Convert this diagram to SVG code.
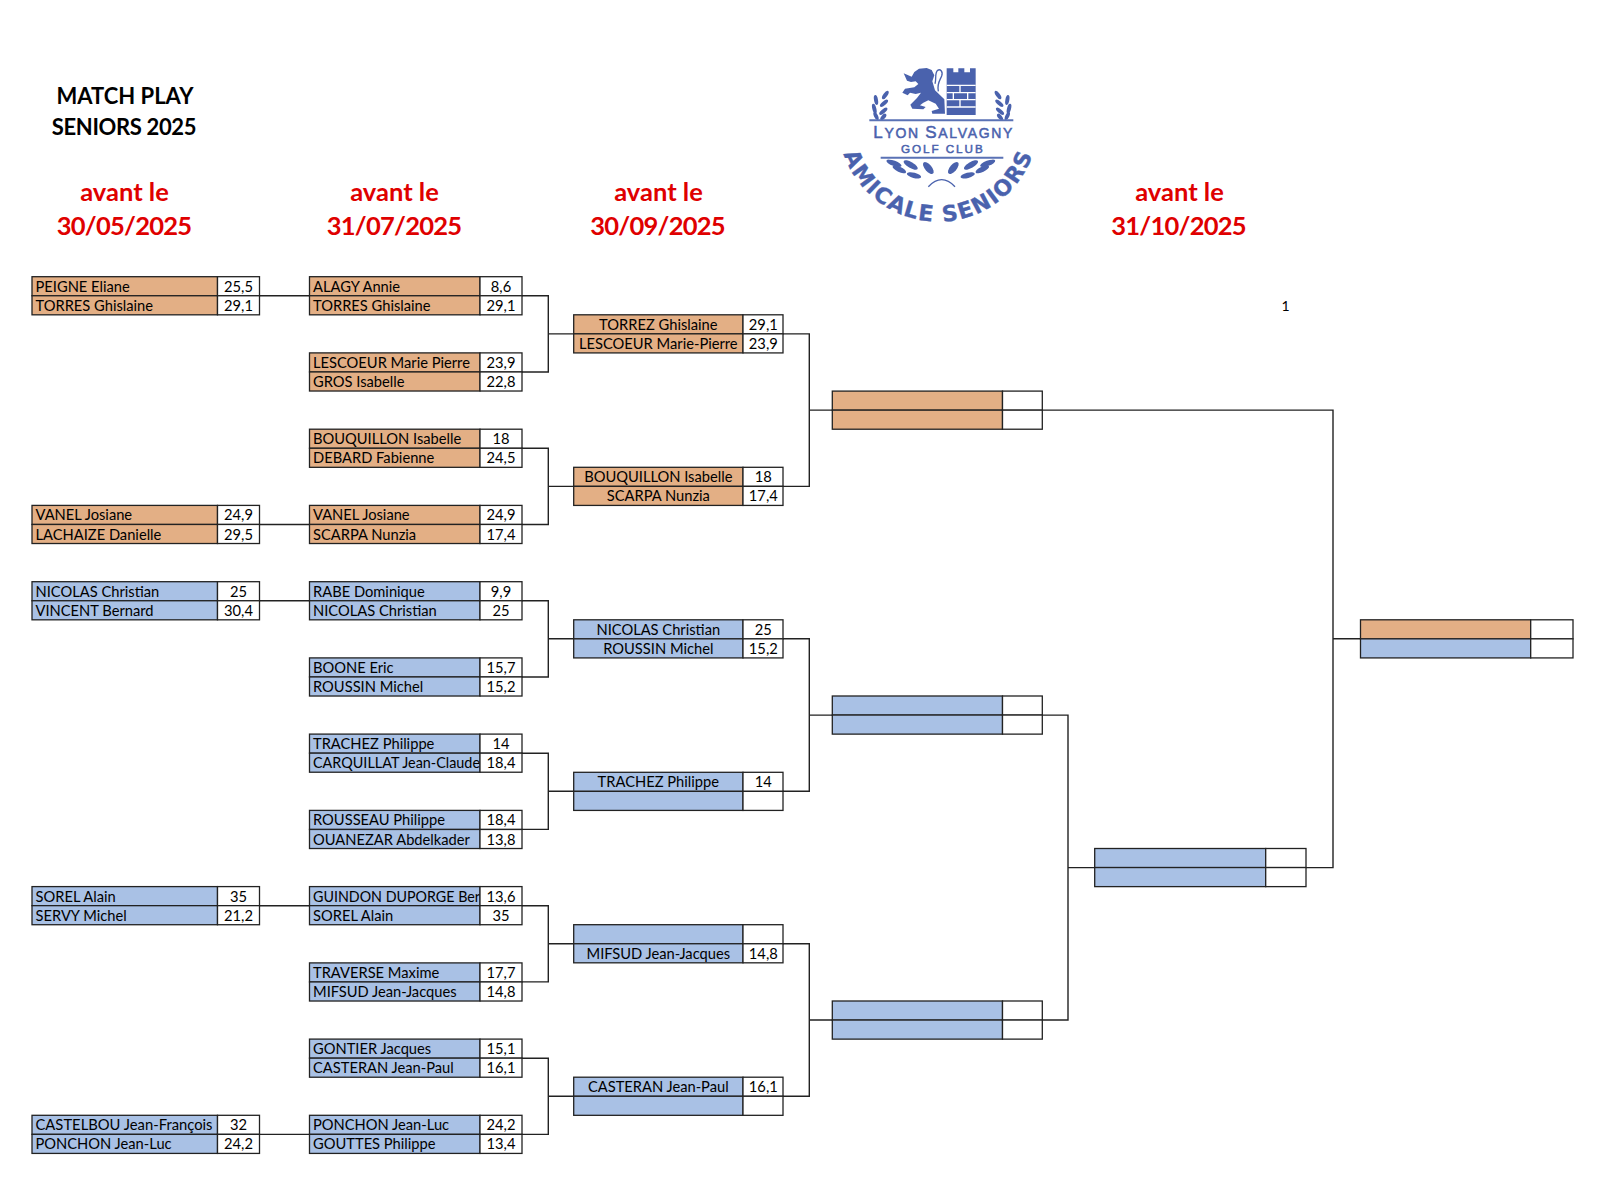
<svg xmlns="http://www.w3.org/2000/svg" width="1610" height="1200" viewBox="0 0 1610 1200">
<style>
text{font-family:"Lato","Open Sans","Liberation Sans",sans-serif;fill:#000}
.n{font-size:14.7px}
.v{font-size:14.7px;text-anchor:middle}
.c{text-anchor:middle}
.o,.b,.w{stroke:#222;stroke-width:1.3}
.o{fill:#E3AF85}
.b{fill:#A9C1E5}
.w{fill:#fff}
.t{font-size:22px;font-weight:700;text-anchor:middle}
.r{font-size:25.5px;font-weight:700;text-anchor:middle;fill:#DF0000}
.d{letter-spacing:-0.75px}
.l{fill:none;stroke:#222;stroke-width:1.4}
.logo text{font-family:"Liberation Sans",sans-serif;fill:#4A62AD;stroke:#4A62AD;stroke-width:1.5}
.logo text.a{font-family:"DejaVu Sans",sans-serif;font-weight:700;stroke-width:1;font-size:66px;letter-spacing:4.5px}
.lf{fill:#4A62AD}
</style>
<rect width="1610" height="1200" fill="#fff"/>
<g id="titles">
<text class="t" x="125" y="104">MATCH PLAY</text>
<text class="t" x="124" y="135" style="letter-spacing:-0.35px">SENIORS 2025</text>
<text class="r" x="124.5" y="201">avant le</text>
<text class="r d" x="124" y="235">30/05/2025</text>
<text class="r" x="394.5" y="201">avant le</text>
<text class="r d" x="394" y="235">31/07/2025</text>
<text class="r" x="658.5" y="201">avant le</text>
<text class="r d" x="657.5" y="235">30/09/2025</text>
<text class="r" x="1179.5" y="201">avant le</text>
<text class="r d" x="1178.5" y="235">31/10/2025</text>
<text x="1285.5" y="311" font-size="14" class="c">1</text>
</g>
<g id="logo" class="logo" transform="translate(820,50) scale(0.33333)">
<path class="lf" transform="translate(225,36)" d="M26 34 L50 44 L58 30 L72 20 L95 18 L110 24 L118 40 L112 58 L120 85 L148 112 L150 155 L112 155 L110 147 L132 140 L122 125 L100 115 L85 122 L75 130 L92 135 L85 142 L52 140 L46 128 L66 108 L78 92 L62 96 L45 92 L38 100 L22 92 L30 80 L58 76 L70 66 L62 58 L48 60 L36 56 Z"/>
<path transform="translate(225,36)" d="M120 65 C125 50 118 35 128 25 C135 20 145 28 140 42 C135 55 125 65 130 88" fill="none" stroke="#4A62AD" stroke-width="4"/>
<path class="lf" d="M380 55 h20 v12 h15 v-12 h18 v12 h17 v-12 h17 V195 H380 Z"/>
<path d="M380 106 H467 M380 128 H467 M380 149 H467 M380 171 H467 M420 106 V128 M400 128 V149 M443 128 V149 M420 149 V171" stroke="#fff" stroke-width="4" fill="none"/>
<g id="laurel-l" class="lf">
<ellipse cx="196" cy="135" rx="6" ry="15" transform="rotate(35 196 135)"/>
<ellipse cx="168" cy="150" rx="6" ry="15" transform="rotate(-10 168 150)"/>
<ellipse cx="192" cy="160" rx="6" ry="15" transform="rotate(50 192 160)"/>
<ellipse cx="163" cy="176" rx="6" ry="15" transform="rotate(-15 163 176)"/>
<ellipse cx="190" cy="184" rx="6" ry="15" transform="rotate(50 190 184)"/>
<ellipse cx="168" cy="198" rx="6" ry="13" transform="rotate(-25 168 198)"/>
<ellipse cx="190" cy="201" rx="6" ry="12" transform="rotate(40 190 201)"/>
</g>
<g class="lf" transform="translate(730,0) scale(-1,1)">
<ellipse cx="196" cy="135" rx="6" ry="15" transform="rotate(35 196 135)"/>
<ellipse cx="168" cy="150" rx="6" ry="15" transform="rotate(-10 168 150)"/>
<ellipse cx="192" cy="160" rx="6" ry="15" transform="rotate(50 192 160)"/>
<ellipse cx="163" cy="176" rx="6" ry="15" transform="rotate(-15 163 176)"/>
<ellipse cx="190" cy="184" rx="6" ry="15" transform="rotate(50 190 184)"/>
<ellipse cx="168" cy="198" rx="6" ry="13" transform="rotate(-25 168 198)"/>
<ellipse cx="190" cy="201" rx="6" ry="12" transform="rotate(40 190 201)"/>
</g>
<path d="M148 211 H580 M182 323 H550" stroke="#5A72B5" stroke-width="6" fill="none"/>
<text x="160" y="265" font-size="42" textLength="417"><tspan font-size="51">L</tspan>YON <tspan font-size="51">S</tspan>ALVAGNY</text>
<text x="243" y="308" font-size="35" textLength="245">GOLF CLUB</text>
<g id="laurel-b" class="lf">
<ellipse cx="222" cy="340" rx="24" ry="8" transform="rotate(20 222 340)"/>
<ellipse cx="238" cy="358" rx="22" ry="8" transform="rotate(25 238 358)"/>
<ellipse cx="272" cy="345" rx="24" ry="9" transform="rotate(30 272 345)"/>
<ellipse cx="282" cy="376" rx="22" ry="8" transform="rotate(15 282 376)"/>
<ellipse cx="325" cy="354" rx="22" ry="10" transform="rotate(50 325 354)"/>
</g>
<g class="lf" transform="translate(725,0) scale(-1,1)">
<ellipse cx="222" cy="340" rx="24" ry="8" transform="rotate(20 222 340)"/>
<ellipse cx="238" cy="358" rx="22" ry="8" transform="rotate(25 238 358)"/>
<ellipse cx="272" cy="345" rx="24" ry="9" transform="rotate(30 272 345)"/>
<ellipse cx="282" cy="376" rx="22" ry="8" transform="rotate(15 282 376)"/>
<ellipse cx="325" cy="354" rx="22" ry="10" transform="rotate(50 325 354)"/>
</g>
<path d="M325 410 Q365 368 405 410" fill="none" stroke="#4A62AD" stroke-width="4"/>
<path id="logoarc" d="M55 215 A300 300 0 0 0 655 215" fill="none"/>
<text class="a"><textPath href="#logoarc" startOffset="50%" text-anchor="middle">AMICALE SENIORS</textPath></text>
</g>
<g id="connectors" class="l">
<path d="M259.5 295.8H309.5M259.5 524.5H309.5M259.5 600.7H309.5M259.5 905.7H309.5M259.5 1134.4H309.5"/>
<path d="M522 295.8H548.3V372H522M548.3 333.9H573.7"/>
<path d="M522 448.2H548.3V524.5H522M548.3 486.4H573.7"/>
<path d="M522 600.7H548.3V677H522M548.3 638.8H573.7"/>
<path d="M522 753.2H548.3V829.4H522M548.3 791.3H573.7"/>
<path d="M522 905.7H548.3V981.9H522M548.3 943.8H573.7"/>
<path d="M522 1058.2H548.3V1134.4H522M548.3 1096.3H573.7"/>
<path d="M783 333.9H809.3V486.4H783M809.3 410.1H832.3"/>
<path d="M783 638.8H809.3V791.3H783M809.3 715.1H832.3"/>
<path d="M783 943.8H809.3V1096.3H783M809.3 1020H832.3"/>
<path d="M1042.3 715.1H1068V1020H1042.3M1068 867.6H1094.7"/>
<path d="M1042.3 410.1H1333V867.6H1306M1333 638.8H1360.5"/>
</g>
<g id="m01" transform="translate(32,276.7)"><rect class="o" width="185.5" height="19.06"/><rect class="o" y="19.06" width="185.5" height="19.06"/><rect class="w" x="185.5" width="42" height="19.06"/><rect class="w" x="185.5" y="19.06" width="42" height="19.06"/><text class="n" x="3.5" y="15.1">PEIGNE Eliane</text><text class="n" x="3.5" y="34.2">TORRES Ghislaine</text><text class="v" x="206.5" y="15.1">25,5</text><text class="v" x="206.5" y="34.2">29,1</text></g>
<g id="m02" transform="translate(32,505.4)"><rect class="o" width="185.5" height="19.06"/><rect class="o" y="19.06" width="185.5" height="19.06"/><rect class="w" x="185.5" width="42" height="19.06"/><rect class="w" x="185.5" y="19.06" width="42" height="19.06"/><text class="n" x="3.5" y="15.1">VANEL Josiane</text><text class="n" x="3.5" y="34.2">LACHAIZE Danielle</text><text class="v" x="206.5" y="15.1">24,9</text><text class="v" x="206.5" y="34.2">29,5</text></g>
<g id="m03" transform="translate(32,581.7)"><rect class="b" width="185.5" height="19.06"/><rect class="b" y="19.06" width="185.5" height="19.06"/><rect class="w" x="185.5" width="42" height="19.06"/><rect class="w" x="185.5" y="19.06" width="42" height="19.06"/><text class="n" x="3.5" y="15.1">NICOLAS Christian</text><text class="n" x="3.5" y="34.2">VINCENT Bernard</text><text class="v" x="206.5" y="15.1">25</text><text class="v" x="206.5" y="34.2">30,4</text></g>
<g id="m04" transform="translate(32,886.6)"><rect class="b" width="185.5" height="19.06"/><rect class="b" y="19.06" width="185.5" height="19.06"/><rect class="w" x="185.5" width="42" height="19.06"/><rect class="w" x="185.5" y="19.06" width="42" height="19.06"/><text class="n" x="3.5" y="15.1">SOREL Alain</text><text class="n" x="3.5" y="34.2">SERVY Michel</text><text class="v" x="206.5" y="15.1">35</text><text class="v" x="206.5" y="34.2">21,2</text></g>
<g id="m05" transform="translate(32,1115.3)"><rect class="b" width="185.5" height="19.06"/><rect class="b" y="19.06" width="185.5" height="19.06"/><rect class="w" x="185.5" width="42" height="19.06"/><rect class="w" x="185.5" y="19.06" width="42" height="19.06"/><text class="n" x="3.5" y="15.1" textLength="177" lengthAdjust="spacingAndGlyphs">CASTELBOU Jean-François</text><text class="n" x="3.5" y="34.2">PONCHON Jean-Luc</text><text class="v" x="206.5" y="15.1">32</text><text class="v" x="206.5" y="34.2">24,2</text></g>

<g id="m06" transform="translate(309.5,276.7)"><rect class="o" width="170.5" height="19.06"/><rect class="o" y="19.06" width="170.5" height="19.06"/><text class="n" x="3.5" y="15.1">ALAGY Annie</text><text class="n" x="3.5" y="34.2">TORRES Ghislaine</text><rect class="w" x="170.5" width="42" height="19.06"/><rect class="w" x="170.5" y="19.06" width="42" height="19.06"/><text class="v" x="191.5" y="15.1">8,6</text><text class="v" x="191.5" y="34.2">29,1</text></g>
<g id="m07" transform="translate(309.5,352.9)"><rect class="o" width="170.5" height="19.06"/><rect class="o" y="19.06" width="170.5" height="19.06"/><text class="n" x="3.5" y="15.1">LESCOEUR Marie Pierre</text><text class="n" x="3.5" y="34.2">GROS Isabelle</text><rect class="w" x="170.5" width="42" height="19.06"/><rect class="w" x="170.5" y="19.06" width="42" height="19.06"/><text class="v" x="191.5" y="15.1">23,9</text><text class="v" x="191.5" y="34.2">22,8</text></g>
<g id="m08" transform="translate(309.5,429.2)"><rect class="o" width="170.5" height="19.06"/><rect class="o" y="19.06" width="170.5" height="19.06"/><text class="n" x="3.5" y="15.1">BOUQUILLON Isabelle</text><text class="n" x="3.5" y="34.2">DEBARD Fabienne</text><rect class="w" x="170.5" width="42" height="19.06"/><rect class="w" x="170.5" y="19.06" width="42" height="19.06"/><text class="v" x="191.5" y="15.1">18</text><text class="v" x="191.5" y="34.2">24,5</text></g>
<g id="m09" transform="translate(309.5,505.4)"><rect class="o" width="170.5" height="19.06"/><rect class="o" y="19.06" width="170.5" height="19.06"/><text class="n" x="3.5" y="15.1">VANEL Josiane</text><text class="n" x="3.5" y="34.2">SCARPA Nunzia</text><rect class="w" x="170.5" width="42" height="19.06"/><rect class="w" x="170.5" y="19.06" width="42" height="19.06"/><text class="v" x="191.5" y="15.1">24,9</text><text class="v" x="191.5" y="34.2">17,4</text></g>
<g id="m10" transform="translate(309.5,581.7)"><rect class="b" width="170.5" height="19.06"/><rect class="b" y="19.06" width="170.5" height="19.06"/><text class="n" x="3.5" y="15.1">RABE Dominique</text><text class="n" x="3.5" y="34.2">NICOLAS Christian</text><rect class="w" x="170.5" width="42" height="19.06"/><rect class="w" x="170.5" y="19.06" width="42" height="19.06"/><text class="v" x="191.5" y="15.1">9,9</text><text class="v" x="191.5" y="34.2">25</text></g>
<g id="m11" transform="translate(309.5,657.9)"><rect class="b" width="170.5" height="19.06"/><rect class="b" y="19.06" width="170.5" height="19.06"/><text class="n" x="3.5" y="15.1">BOONE Eric</text><text class="n" x="3.5" y="34.2">ROUSSIN Michel</text><rect class="w" x="170.5" width="42" height="19.06"/><rect class="w" x="170.5" y="19.06" width="42" height="19.06"/><text class="v" x="191.5" y="15.1">15,7</text><text class="v" x="191.5" y="34.2">15,2</text></g>
<g id="m12" transform="translate(309.5,734.1)"><rect class="b" width="170.5" height="19.06"/><rect class="b" y="19.06" width="170.5" height="19.06"/><text class="n" x="3.5" y="15.1">TRACHEZ Philippe</text><text class="n" x="3.5" y="34.2" textLength="167" lengthAdjust="spacingAndGlyphs">CARQUILLAT Jean-Claude</text><rect class="w" x="170.5" width="42" height="19.06"/><rect class="w" x="170.5" y="19.06" width="42" height="19.06"/><text class="v" x="191.5" y="15.1">14</text><text class="v" x="191.5" y="34.2">18,4</text></g>
<g id="m13" transform="translate(309.5,810.4)"><rect class="b" width="170.5" height="19.06"/><rect class="b" y="19.06" width="170.5" height="19.06"/><text class="n" x="3.5" y="15.1">ROUSSEAU Philippe</text><text class="n" x="3.5" y="34.2">OUANEZAR Abdelkader</text><rect class="w" x="170.5" width="42" height="19.06"/><rect class="w" x="170.5" y="19.06" width="42" height="19.06"/><text class="v" x="191.5" y="15.1">18,4</text><text class="v" x="191.5" y="34.2">13,8</text></g>
<g id="m14" transform="translate(309.5,886.6)"><rect class="b" width="170.5" height="19.06"/><rect class="b" y="19.06" width="170.5" height="19.06"/><text class="n" x="3.5" y="15.1" textLength="167" lengthAdjust="spacingAndGlyphs">GUINDON DUPORGE Ber</text><text class="n" x="3.5" y="34.2">SOREL Alain</text><rect class="w" x="170.5" width="42" height="19.06"/><rect class="w" x="170.5" y="19.06" width="42" height="19.06"/><text class="v" x="191.5" y="15.1">13,6</text><text class="v" x="191.5" y="34.2">35</text></g>
<g id="m15" transform="translate(309.5,962.9)"><rect class="b" width="170.5" height="19.06"/><rect class="b" y="19.06" width="170.5" height="19.06"/><text class="n" x="3.5" y="15.1">TRAVERSE Maxime</text><text class="n" x="3.5" y="34.2">MIFSUD Jean-Jacques</text><rect class="w" x="170.5" width="42" height="19.06"/><rect class="w" x="170.5" y="19.06" width="42" height="19.06"/><text class="v" x="191.5" y="15.1">17,7</text><text class="v" x="191.5" y="34.2">14,8</text></g>
<g id="m16" transform="translate(309.5,1039.1)"><rect class="b" width="170.5" height="19.06"/><rect class="b" y="19.06" width="170.5" height="19.06"/><text class="n" x="3.5" y="15.1">GONTIER Jacques</text><text class="n" x="3.5" y="34.2">CASTERAN Jean-Paul</text><rect class="w" x="170.5" width="42" height="19.06"/><rect class="w" x="170.5" y="19.06" width="42" height="19.06"/><text class="v" x="191.5" y="15.1">15,1</text><text class="v" x="191.5" y="34.2">16,1</text></g>
<g id="m17" transform="translate(309.5,1115.3)"><rect class="b" width="170.5" height="19.06"/><rect class="b" y="19.06" width="170.5" height="19.06"/><text class="n" x="3.5" y="15.1">PONCHON Jean-Luc</text><text class="n" x="3.5" y="34.2">GOUTTES Philippe</text><rect class="w" x="170.5" width="42" height="19.06"/><rect class="w" x="170.5" y="19.06" width="42" height="19.06"/><text class="v" x="191.5" y="15.1">24,2</text><text class="v" x="191.5" y="34.2">13,4</text></g>

<g id="m18" transform="translate(573.7,314.8)"><rect class="o" width="169.3" height="19.06"/><rect class="o" y="19.06" width="169.3" height="19.06"/><rect class="w" x="169.3" width="40" height="19.06"/><rect class="w" x="169.3" y="19.06" width="40" height="19.06"/><text class="v" x="84.6" y="15.1">TORREZ Ghislaine</text><text class="v" x="84.6" y="34.2">LESCOEUR Marie-Pierre</text><text class="v" x="189.6" y="15.1">29,1</text><text class="v" x="189.6" y="34.2">23,9</text></g>
<g id="m19" transform="translate(573.7,467.3)"><rect class="o" width="169.3" height="19.06"/><rect class="o" y="19.06" width="169.3" height="19.06"/><rect class="w" x="169.3" width="40" height="19.06"/><rect class="w" x="169.3" y="19.06" width="40" height="19.06"/><text class="v" x="84.6" y="15.1">BOUQUILLON Isabelle</text><text class="v" x="84.6" y="34.2">SCARPA Nunzia</text><text class="v" x="189.6" y="15.1">18</text><text class="v" x="189.6" y="34.2">17,4</text></g>
<g id="m20" transform="translate(573.7,619.8)"><rect class="b" width="169.3" height="19.06"/><rect class="b" y="19.06" width="169.3" height="19.06"/><rect class="w" x="169.3" width="40" height="19.06"/><rect class="w" x="169.3" y="19.06" width="40" height="19.06"/><text class="v" x="84.6" y="15.1">NICOLAS Christian</text><text class="v" x="84.6" y="34.2">ROUSSIN Michel</text><text class="v" x="189.6" y="15.1">25</text><text class="v" x="189.6" y="34.2">15,2</text></g>
<g id="m21" transform="translate(573.7,772.3)"><rect class="b" width="169.3" height="19.06"/><rect class="b" y="19.06" width="169.3" height="19.06"/><rect class="w" x="169.3" width="40" height="19.06"/><rect class="w" x="169.3" y="19.06" width="40" height="19.06"/><text class="v" x="84.6" y="15.1">TRACHEZ Philippe</text><text class="v" x="189.6" y="15.1">14</text></g>
<g id="m22" transform="translate(573.7,924.7)"><rect class="b" width="169.3" height="19.06"/><rect class="b" y="19.06" width="169.3" height="19.06"/><rect class="w" x="169.3" width="40" height="19.06"/><rect class="w" x="169.3" y="19.06" width="40" height="19.06"/><text class="v" x="84.6" y="34.2">MIFSUD Jean-Jacques</text><text class="v" x="189.6" y="34.2">14,8</text></g>
<g id="m23" transform="translate(573.7,1077.2)"><rect class="b" width="169.3" height="19.06"/><rect class="b" y="19.06" width="169.3" height="19.06"/><rect class="w" x="169.3" width="40" height="19.06"/><rect class="w" x="169.3" y="19.06" width="40" height="19.06"/><text class="v" x="84.6" y="15.1">CASTERAN Jean-Paul</text><text class="v" x="189.6" y="15.1">16,1</text></g>

<g id="m24" transform="translate(832.3,391.1)"><rect class="o" width="170.2" height="19.06"/><rect class="o" y="19.06" width="170.2" height="19.06"/><rect class="w" x="170.2" width="39.8" height="19.06"/><rect class="w" x="170.2" y="19.06" width="39.8" height="19.06"/></g>
<g id="m25" transform="translate(832.3,696)"><rect class="b" width="170.2" height="19.06"/><rect class="b" y="19.06" width="170.2" height="19.06"/><rect class="w" x="170.2" width="39.8" height="19.06"/><rect class="w" x="170.2" y="19.06" width="39.8" height="19.06"/></g>
<g id="m26" transform="translate(832.3,1001)"><rect class="b" width="170.2" height="19.06"/><rect class="b" y="19.06" width="170.2" height="19.06"/><rect class="w" x="170.2" width="39.8" height="19.06"/><rect class="w" x="170.2" y="19.06" width="39.8" height="19.06"/></g>
<g id="m27" transform="translate(1094.7,848.5)"><rect class="b" width="171" height="19.06"/><rect class="b" y="19.06" width="171" height="19.06"/><rect class="w" x="171" width="40.3" height="19.06"/><rect class="w" x="171" y="19.06" width="40.3" height="19.06"/></g>
<g id="m28" transform="translate(1360.5,619.8)"><rect class="o" width="170.2" height="19.06"/><rect class="b" y="19.06" width="170.2" height="19.06"/><rect class="w" x="170.2" width="42.3" height="19.06"/><rect class="w" x="170.2" y="19.06" width="42.3" height="19.06"/></g>
</svg>
